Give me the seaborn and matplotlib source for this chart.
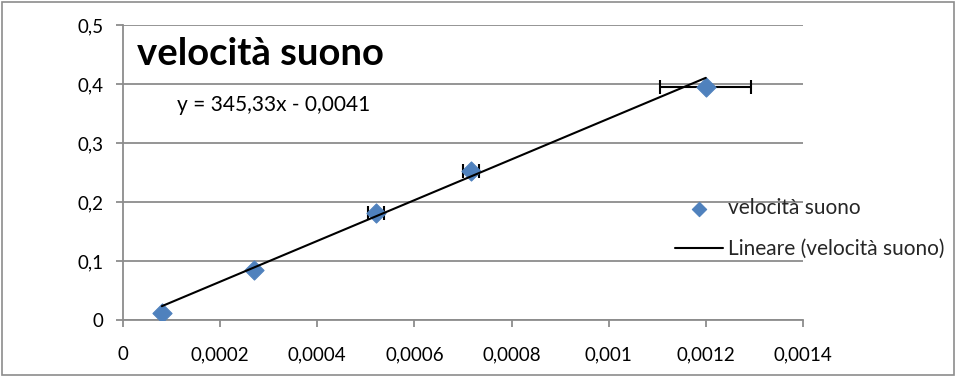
import matplotlib
matplotlib.use("Agg")
import matplotlib.pyplot as plt
from matplotlib.ticker import FuncFormatter, MultipleLocator
from matplotlib.patches import Rectangle
import seaborn as sns
import numpy as np
import pandas as pd

# dati
tempo = [0.00008, 0.00027, 0.00052, 0.000717, 0.0012]
distanza = [0.012, 0.085, 0.182, 0.252, 0.395]
err_x = [0.0, 0.0, 0.0000165, 0.0000165, 0.0000935]
pendenza = 345.33
intercetta = -0.0041

sns.set_theme(style="white")
plt.rcParams['font.family'] = ['Lato', 'DejaVu Sans']

df = pd.DataFrame({"x": tempo, "y": distanza})
df_fit = pd.DataFrame({"x": [min(tempo), max(tempo)]})
df_fit["y"] = pendenza * df_fit["x"] + intercetta

fig = plt.figure(figsize=(9.57, 3.77), dpi=100)
ax = fig.add_axes([0.1285, 0.151, 0.7105, 0.783])

ax.yaxis.grid(True, color="#8c8c8c", linewidth=1.3)
ax.set_axisbelow(True)

ax.errorbar(tempo, distanza, xerr=err_x, fmt="none", ecolor="black",
            elinewidth=1.5, capsize=5, capthick=1.5, zorder=2)
sns.scatterplot(data=df, x="x", y="y", marker="D", s=95, color="#4F81BD",
                edgecolor="#4F81BD", ax=ax, zorder=3, label="velocità suono")
sns.lineplot(data=df_fit, x="x", y="y", color="black", linewidth=1.5, ax=ax,
             zorder=4, label="Lineare (velocità suono)")

ax.set_xlim(0, 0.0014)
ax.set_ylim(0, 0.5)
ax.xaxis.set_major_locator(MultipleLocator(0.0002))
ax.yaxis.set_major_locator(MultipleLocator(0.1))

def virgola(v, pos):
    s = "{:.4f}".format(v).rstrip("0").rstrip(".")
    return s.replace(".", ",")

ax.xaxis.set_major_formatter(FuncFormatter(virgola))
ax.yaxis.set_major_formatter(FuncFormatter(virgola))
ax.set_xlabel("")
ax.set_ylabel("")

for side in ["top", "right"]:
    ax.spines[side].set_visible(False)
for side in ["left", "bottom"]:
    ax.spines[side].set_color("#8c8c8c")
    ax.spines[side].set_linewidth(1.3)
ax.tick_params(axis="both", direction="out", length=5, width=1.3,
               color="#8c8c8c", labelsize=13.5, labelcolor="black",
               bottom=True, left=True)
ax.tick_params(axis="x", pad=14)
ax.tick_params(axis="y", pad=9)

ax.text(0.02, 0.9, "velocità suono", transform=ax.transAxes, fontsize=27.5,
        fontweight="bold", color="black", ha="left", va="center")
ax.text(0.08, 0.73, "y = 345,33x - 0,0041", transform=ax.transAxes,
        fontsize=15, color="black", ha="left", va="center")

ax.legend(loc="center left", bbox_to_anchor=(0.785, 0.31), frameon=False,
          fontsize=15, handlelength=2.3, labelspacing=1.0, handletextpad=0.2,
          markerscale=0.75)

fig.patches.append(Rectangle((0.002, 0.004), 0.995, 0.99, transform=fig.transFigure,
                             fill=False, edgecolor="#8c8c8c", linewidth=1.2))

fig.savefig("out.png", dpi=100)
